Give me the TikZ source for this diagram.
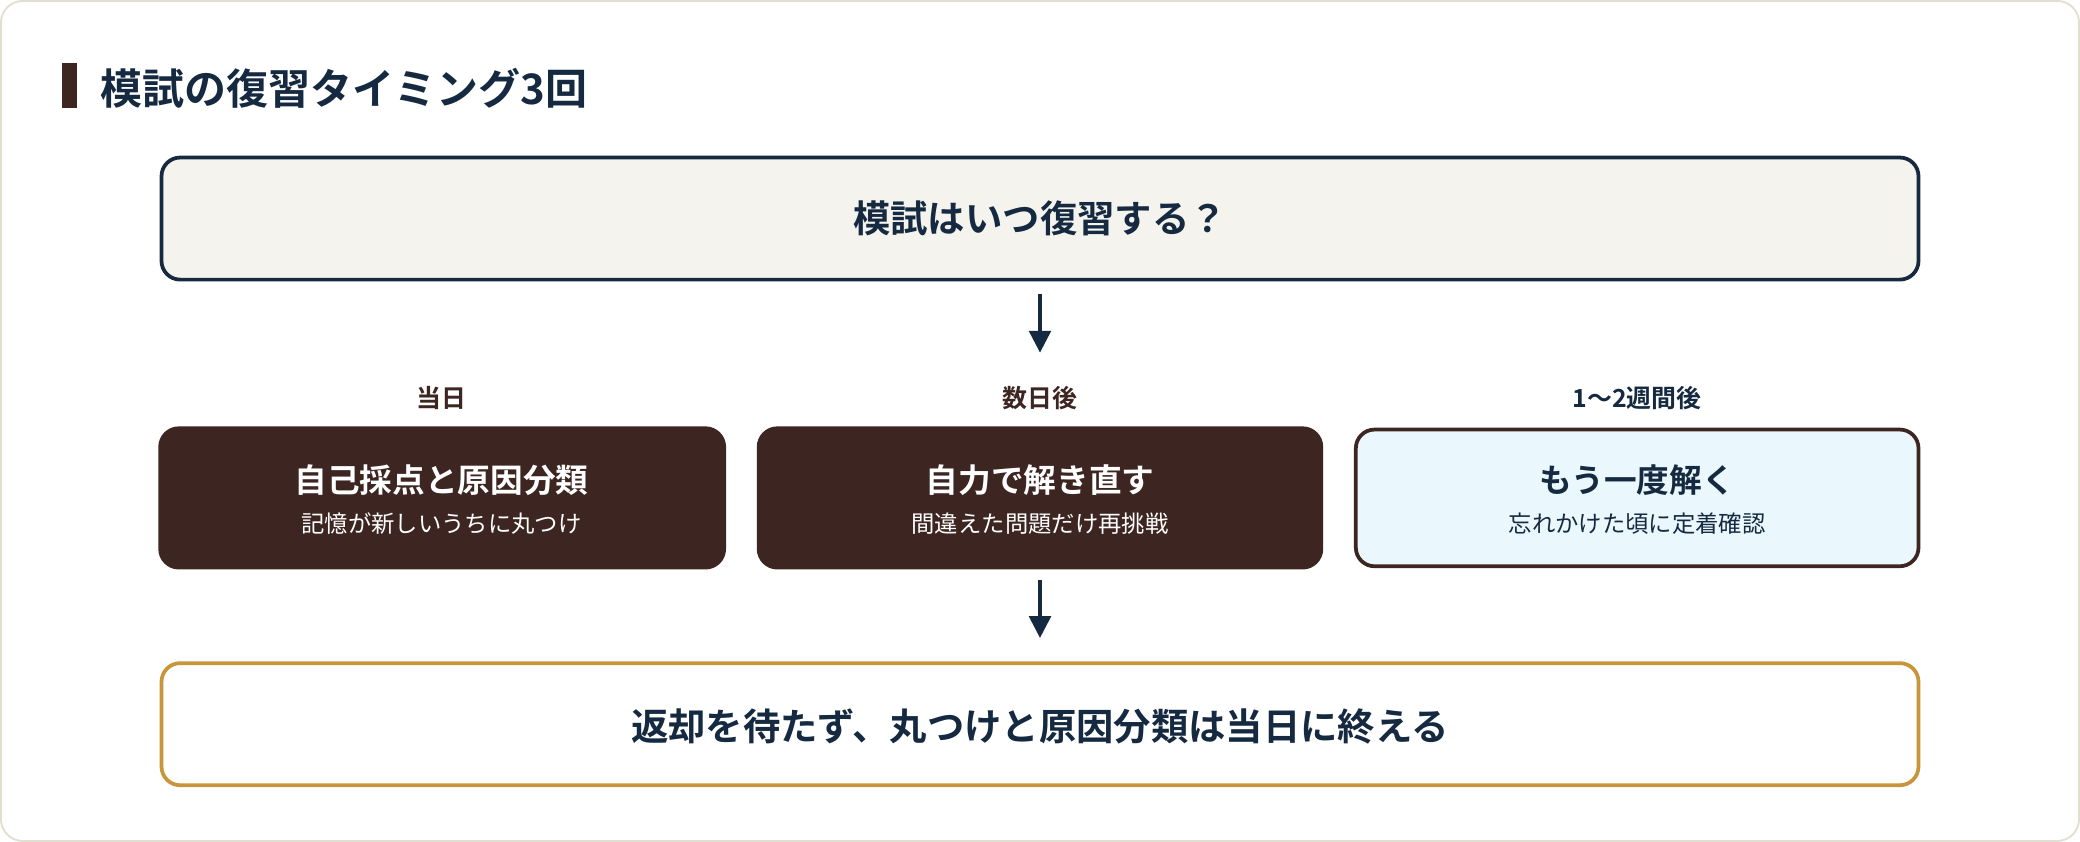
\documentclass[tikz,border=0pt]{standalone}
\usepackage{fontspec}
\setmainfont{Noto Sans CJK JP}[BoldFont={* Bold}]
\usetikzlibrary{arrows.meta}
\definecolor{navy}{HTML}{152A40}
\definecolor{brn}{HTML}{3D2622}
\definecolor{cream}{HTML}{F5F3EE}
\definecolor{edge}{HTML}{E3DFD0}
\definecolor{lblue}{HTML}{EAF8FD}
\definecolor{gold}{HTML}{C8963A}
\begin{document}
\begin{tikzpicture}[x=0.853pt,y=-0.853pt,
  box/.style={rounded corners=12pt,line width=2.4pt},
  main/.style={font=\bfseries\fontsize{24pt}{28pt}\selectfont,text=navy},
  lab/.style={font=\bfseries\fontsize{16pt}{19pt}\selectfont},
  arr/.style={-{Triangle[length=14pt,width=14pt]},line width=2pt,draw=navy}]
\draw[edge,fill=white,line width=1.2pt,rounded corners=14pt] (1,1) rectangle (1567,634);
\fill[brn] (47,48) rectangle (58,82);
\node[anchor=west,font=\bfseries\fontsize{27pt}{30pt}\selectfont,text=navy] (title) at (72,67) {模試の復習タイミング3回};
\draw[box,draw=navy,fill=cream] (122,119) rectangle (1446,211);
\node[main] (q) at (784,165) {模試はいつ復習する？};
\coordinate (a1) at (784,222); \coordinate (a2) at (784,266);
\draw[arr] (a1) -- (a2);
\node[lab,text=brn] (l1) at (333,300) {当日};
\node[lab,text=brn] (l2) at (784,300) {数日後};
\node[lab,text=navy] (l3) at (1234,300) {1〜2週間後};
\draw[box,draw=brn,fill=brn] (121,323) rectangle (546,428);
\draw[box,draw=brn,fill=brn] (572,323) rectangle (996,428);
\draw[box,draw=brn,fill=lblue] (1022,324) rectangle (1446,427);
\node[font=\bfseries\fontsize{21pt}{24pt}\selectfont,text=white] (b1) at (333,362) {自己採点と原因分類};
\node[font=\fontsize{15pt}{18pt}\selectfont,text=white] (s1) at (333,395) {記憶が新しいうちに丸つけ};
\node[font=\bfseries\fontsize{21pt}{24pt}\selectfont,text=white] (b2) at (784,362) {自力で解き直す};
\node[font=\fontsize{15pt}{18pt}\selectfont,text=white] (s2) at (784,395) {間違えた問題だけ再挑戦};
\node[font=\bfseries\fontsize{21pt}{24pt}\selectfont,text=navy] (b3) at (1234,362) {もう一度解く};
\node[font=\fontsize{15pt}{18pt}\selectfont,text=navy] (s3) at (1234,395) {忘れかけた頃に定着確認};
\coordinate (c1) at (784,437); \coordinate (c2) at (784,481);
\draw[arr] (c1) -- (c2);
\draw[box,draw=gold,fill=white] (122,500) rectangle (1446,592);
\node[main] (f) at (784,548) {返却を待たず、丸つけと原因分類は当日に終える};
\end{tikzpicture}
\end{document}
